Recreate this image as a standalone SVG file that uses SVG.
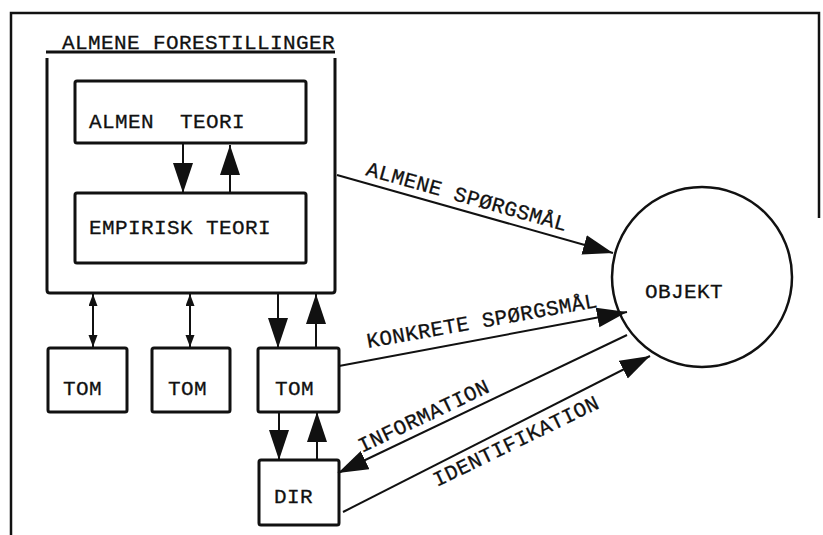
<svg xmlns="http://www.w3.org/2000/svg" width="823" height="535" viewBox="0 0 823 535">
<style>
text{font-family:"Liberation Mono","DejaVu Sans Mono",monospace;font-size:21px;letter-spacing:0.4px;fill:#111;stroke:#111;stroke-width:0.3}
.box{fill:none;stroke:#111;stroke-width:3}
.ln{fill:none;stroke:#111;stroke-width:2}
.frame{fill:none;stroke:#111;stroke-width:2.5}
</style>
<defs>
<marker id="big" markerUnits="userSpaceOnUse" markerWidth="32" markerHeight="22" refX="30" refY="10" orient="auto">
<path d="M0,0 L30,10 L0,20 Z" fill="#111"/>
</marker>
<marker id="small" markerUnits="userSpaceOnUse" markerWidth="14" markerHeight="10" refX="12" refY="4.5" orient="auto-start-reverse">
<path d="M0,0 L12,4.5 L0,9 Z" fill="#111"/>
</marker>
</defs>
<rect width="823" height="535" fill="#fff"/>
<path class="frame" d="M11,535 V13 H819 V218"/>

<g id="almene-forestillinger">
<text x="62" y="49">ALMENE FORESTILLINGER</text>
<line class="box" x1="46" y1="52" x2="335" y2="52"/>
<path class="box" d="M47,58 V290 Q47,293 50,293 H332 Q335,293 335,290 V58"/>
</g>
<g id="almen-teori">
<rect class="box" x="75" y="81" width="231" height="62" rx="2"/>
<text x="89" y="128" xml:space="preserve">ALMEN  TEORI</text>
</g>
<g id="empirisk-teori">
<rect class="box" x="75" y="193" width="231" height="70" rx="2"/>
<text x="89" y="234">EMPIRISK TEORI</text>
</g>
<g id="tom1">
<rect class="box" x="48" y="348" width="79" height="64" rx="2"/>
<text x="63" y="395">TOM</text>
</g>
<g id="tom2">
<rect class="box" x="152" y="348" width="78" height="64" rx="2"/>
<text x="168" y="395">TOM</text>
</g>
<g id="tom3">
<rect class="box" x="258" y="348" width="81" height="64" rx="2"/>
<text x="275" y="395">TOM</text>
</g>
<g id="dir">
<rect class="box" x="259" y="460" width="80" height="65" rx="2"/>
<text x="274" y="503">DIR</text>
</g>
<g id="objekt">
<circle cx="702" cy="277" r="90" fill="none" stroke="#111" stroke-width="2.5"/>
<text x="645" y="298">OBJEKT</text>
</g>

<g id="connectors">
<line class="ln" x1="183" y1="143" x2="183" y2="193" marker-end="url(#big)"/>
<line class="ln" x1="230" y1="193" x2="230" y2="145" marker-end="url(#big)"/>
<line class="ln" x1="93" y1="294" x2="93" y2="347" marker-start="url(#small)" marker-end="url(#small)"/>
<line class="ln" x1="190" y1="294" x2="190" y2="347" marker-start="url(#small)" marker-end="url(#small)"/>
<line class="ln" x1="278" y1="293" x2="278" y2="348" marker-end="url(#big)"/>
<line class="ln" x1="316" y1="348" x2="316" y2="294" marker-end="url(#big)"/>
<line class="ln" x1="279" y1="412" x2="279" y2="460" marker-end="url(#big)"/>
<line class="ln" x1="317" y1="460" x2="317" y2="412" marker-end="url(#big)"/>
<line class="ln" x1="337" y1="175" x2="613" y2="253" marker-end="url(#big)"/>
<line class="ln" x1="339" y1="366" x2="627" y2="312" marker-end="url(#big)"/>
<line class="ln" x1="627" y1="335" x2="338" y2="473" marker-end="url(#big)"/>
<line class="ln" x1="343" y1="512" x2="650" y2="356" marker-end="url(#big)"/>
<text transform="translate(365,175) rotate(15.7)">ALMENE SPØRGSMÅL</text>
<text transform="translate(368,348) rotate(-10.1)">KONKRETE SPØRGSMÅL</text>
<text transform="translate(362,453) rotate(-25.5)">INFORMATION</text>
<text transform="translate(437,487) rotate(-25.9)">IDENTIFIKATION</text>
</g>
</svg>
